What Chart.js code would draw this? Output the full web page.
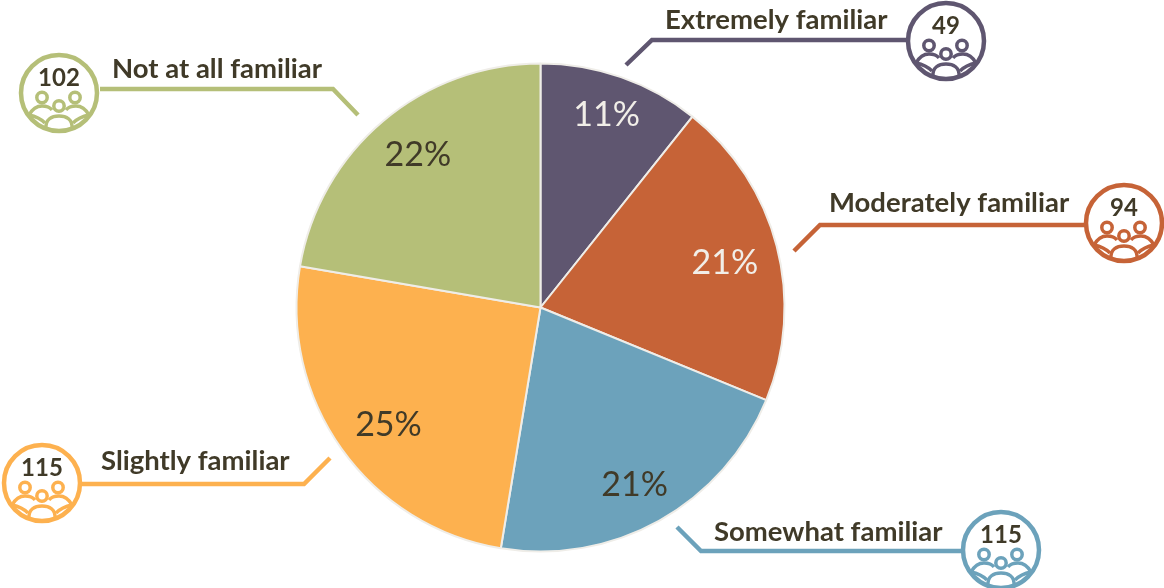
<!DOCTYPE html>
<html>
<head>
<meta charset="utf-8">
<title>Familiarity</title>
<style>
  html, body { margin: 0; padding: 0; background: #fff; }
  canvas { display: block; }
</style>
<script src="https://cdn.jsdelivr.net/npm/chart.js@4"></script>
</head>
<body>
<canvas id="pie" width="1164" height="588"></canvas>
<script>
const categories = ['Extremely familiar', 'Moderately familiar', 'Somewhat familiar', 'Slightly familiar', 'Not at all familiar'];
// slice shares
const shares = [10.7, 20.5, 21.4, 25.1, 22.3];
const percentLabels = ['11%', '21%', '21%', '25%', '22%'];
const badgeCounts = ['49', '94', '115', '115', '102'];
const colors = ['#5F5670', '#C66337', '#6CA2BB', '#FDB14F', '#B5BF78'];

const DARK = '#403A28';
const LIGHT = '#F1EEE8';
const percentColors = [LIGHT, LIGHT, DARK, DARK, DARK];
const percentRadius = [0.835, 0.785, 0.825, 0.79, 0.805];
// small shifts so the percent labels sit where the original has them
const percentNudge = [[-1, 0], [-1, 4], [-4, 2], [5, 6], [4, -2]];

// leader line, label and badge placement for each callout
const callouts = [
  { path: [[626, 65], [652, 40], [908, 40]], circle: [946, 41], text: [665, 20.5] },
  { path: [[794, 251], [820, 225], [1085, 225]], circle: [1124, 223], text: [829, 203.5] },
  { path: [[677, 527], [701, 551], [962, 551]], circle: [1001, 550], text: [714, 532.5] },
  { path: [[330, 458], [304, 484], [82, 484]], circle: [42, 483], text: [101, 461.5] },
  { path: [[358, 115], [333, 89], [100, 89]], circle: [59, 93], text: [112, 69.5] }
];

function drawPeople(ctx, cx, cy, r, color) {
  ctx.save();
  ctx.beginPath();
  ctx.arc(cx, cy, r, 0, Math.PI * 2);
  ctx.clip();
  ctx.strokeStyle = color;
  ctx.lineWidth = 3.5;
  // back two heads
  [-17, 16].forEach(dx => {
    ctx.beginPath();
    ctx.arc(cx + dx, cy + 4.5, 5.2, 0, Math.PI * 2);
    ctx.stroke();
  });
  // front head
  ctx.beginPath();
  ctx.arc(cx, cy + 13, 5.2, 0, Math.PI * 2);
  ctx.stroke();
  // back shoulders
  [-1, 1].forEach(side => {
    ctx.beginPath();
    ctx.moveTo(cx + side * 30, cy + 22);
    ctx.quadraticCurveTo(cx + side * 25, cy + 13, cx + side * 17, cy + 13);
    ctx.quadraticCurveTo(cx + side * 10, cy + 13, cx + side * 7, cy + 17);
    ctx.moveTo(cx + side * 30, cy + 22);
    ctx.quadraticCurveTo(cx + side * 20, cy + 24, cx + side * 14, cy + 30);
    ctx.stroke();
  });
  // front shoulders
  ctx.beginPath();
  ctx.moveTo(cx - 13, cy + 36);
  ctx.bezierCurveTo(cx - 14, cy + 26, cx - 7, cy + 23, cx, cy + 23);
  ctx.bezierCurveTo(cx + 7, cy + 23, cx + 14, cy + 26, cx + 13, cy + 36);
  ctx.stroke();
  ctx.restore();
}

const calloutPlugin = {
  id: 'callouts',
  afterDatasetsDraw(chart) {
    const ctx = chart.ctx;
    const arcs = chart.getDatasetMeta(0).data;

    ctx.save();
    ctx.textBaseline = 'middle';

    // percent labels inside the slices
    arcs.forEach((arc, i) => {
      const p = arc.getProps(['x', 'y', 'startAngle', 'endAngle', 'outerRadius'], true);
      const mid = (p.startAngle + p.endAngle) / 2;
      const dist = p.outerRadius * percentRadius[i];
      ctx.font = '34px Lato';
      ctx.textAlign = 'center';
      ctx.fillStyle = percentColors[i];
      ctx.fillText(percentLabels[i],
        p.x + Math.cos(mid) * dist + percentNudge[i][0],
        p.y + Math.sin(mid) * dist + percentNudge[i][1]);
    });

    callouts.forEach((c, i) => {
      const color = colors[i];
      ctx.strokeStyle = color;
      ctx.lineWidth = 4.5;
      ctx.lineJoin = 'miter';

      ctx.beginPath();
      c.path.forEach((pt, j) => (j ? ctx.lineTo(pt[0], pt[1]) : ctx.moveTo(pt[0], pt[1])));
      ctx.stroke();

      ctx.beginPath();
      ctx.arc(c.circle[0], c.circle[1], 38, 0, Math.PI * 2);
      ctx.fillStyle = '#fff';
      ctx.fill();
      ctx.stroke();

      drawPeople(ctx, c.circle[0], c.circle[1], 37, color);

      ctx.fillStyle = DARK;
      ctx.textAlign = 'center';
      ctx.font = 'bold 24px Lato';
      ctx.fillText(badgeCounts[i], c.circle[0], c.circle[1] - 15);

      ctx.textAlign = 'left';
      ctx.font = 'bold 27.5px Lato';
      ctx.fillText(categories[i], c.text[0], c.text[1]);
    });
    ctx.restore();
  }
};

new Chart(document.getElementById('pie'), {
  type: 'pie',
  data: {
    labels: categories,
    datasets: [{
      data: shares,
      backgroundColor: colors,
      borderColor: '#EFEDE8',
      borderWidth: 2
    }]
  },
  options: {
    responsive: false,
    animation: false,
    radius: 244,
    layout: { padding: { left: 0, right: 83, top: 27, bottom: 0 } },
    plugins: {
      legend: { display: false },
      tooltip: { enabled: false }
    }
  },
  plugins: [calloutPlugin]
});
</script>
</body>
</html>
